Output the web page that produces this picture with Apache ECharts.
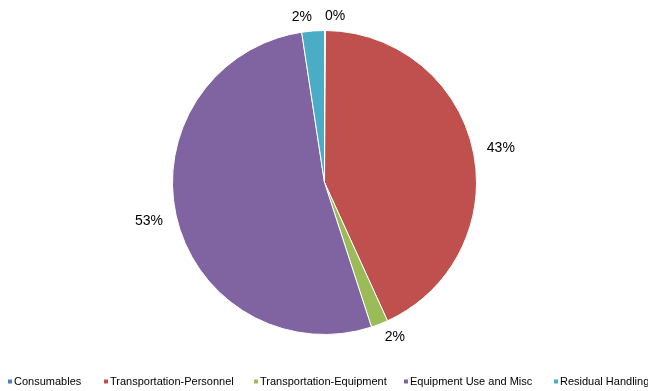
<!DOCTYPE html>
<html>
<head>
<meta charset="utf-8">
<script src="https://cdn.jsdelivr.net/npm/echarts@6/dist/echarts.min.js"></script>
<style>
  html, body { margin: 0; padding: 0; background: #fff; }
  #chart { width: 648px; height: 391px; }
</style>
</head>
<body>
<div id="chart"></div>
<script>
// Cost categories and their percentage shares
const categories = ['Consumables', 'Transportation-Personnel', 'Transportation-Equipment', 'Equipment Use and Misc', 'Residual Handling'];
const shares = [0.1, 43.1, 1.8, 52.6, 2.4];
const colors = ['#4F81BD', '#C0504D', '#9BBB59', '#8064A2', '#4BACC6'];
const legendLeft = [6, 102, 252, 402, 552];

const chart = echarts.init(document.getElementById('chart'));

const pieData = categories.map((name, i) => ({
  name: name,
  value: shares[i],
  itemStyle: { color: colors[i] }
}));

// One legend per entry so the items sit on fixed columns
const legends = categories.map((name, i) => ({
  data: [name],
  left: legendLeft[i],
  top: 376,
  padding: 0,
  orient: 'horizontal',
  itemWidth: 6,
  itemHeight: 6,
  itemGap: 0,
  icon: 'rect',
  selectedMode: false,
  textStyle: { fontFamily: 'Liberation Sans, Arial, sans-serif', fontSize: 11, color: '#000', padding: [0, 0, 0, -4] }
}));

chart.setOption({
  animation: false,
  backgroundColor: '#fff',
  legend: legends,
  series: [{
    type: 'pie',
    center: [324.5, 182.5],
    radius: 152,
    startAngle: 90,
    clockwise: true,
    avoidLabelOverlap: false,
    data: pieData,
    itemStyle: { borderColor: '#fff', borderWidth: 1 },
    label: {
      show: true,
      position: 'outside',
      formatter: (p) => Math.round(p.value) + '%',
      fontFamily: 'Liberation Sans, Arial, sans-serif',
      fontSize: 14,
      color: '#000',
      distanceToLabelLine: 0
    },
    labelLine: { show: false, length: 14, length2: 0 },
    emphasis: { disabled: true }
  }]
});
</script>
</body>
</html>
